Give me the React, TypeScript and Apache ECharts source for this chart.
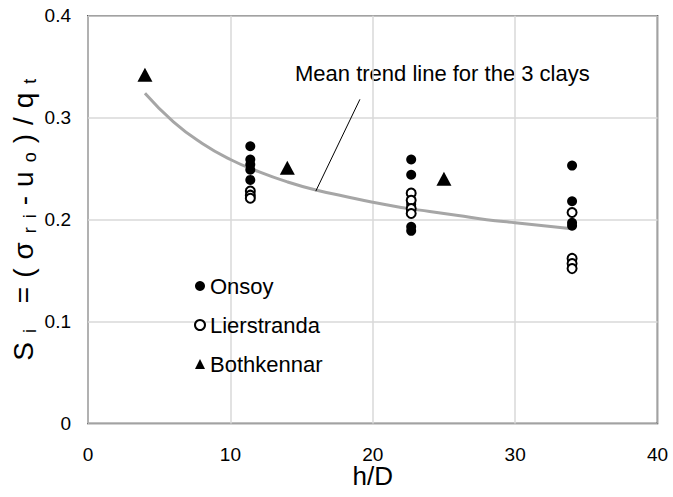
import React, { useEffect, useRef } from "react";
import * as echarts from "echarts";

const FONT = "'Liberation Sans', Arial, sans-serif";

// h/D and S_i values
const onsoyH = [11.4, 11.4, 11.4, 11.4, 11.4, 22.7, 22.7, 22.7, 22.7, 22.7, 22.7, 34, 34, 34, 34];
const onsoyS = [0.272, 0.259, 0.254, 0.249, 0.239, 0.259, 0.244, 0.215, 0.209, 0.193, 0.189, 0.253, 0.218, 0.197, 0.194];

const lierH = [11.4, 11.4, 11.4, 22.7, 22.7, 22.7, 22.7, 34, 34, 34, 34];
const lierS = [0.228, 0.224, 0.221, 0.226, 0.219, 0.211, 0.206, 0.207, 0.162, 0.157, 0.152];

const bothH = [4, 14, 25];
const bothS = [0.342, 0.251, 0.240];

const trendH = [4, 6, 8, 10, 12, 14, 16, 18, 20, 22, 24, 26, 28, 30, 32, 34];
const trendS = [0.324, 0.296, 0.275, 0.259, 0.247, 0.237, 0.229, 0.223, 0.217, 0.212, 0.208, 0.204, 0.200, 0.197, 0.194, 0.191];

const pointerH = [16.0, 19.1];
const pointerS = [0.228, 0.318];

const xTicks = [0, 10, 20, 30, 40];
const yTicks = [0, 0.1, 0.2, 0.3, 0.4];

const annotationText = "Mean trend line for the 3 clays";

// y-axis title pieces: [text, isSubscript]
const yTitleParts: [string, boolean][] = [
  ["S", false], ["i", true], [" ", false], ["=", false], ["(", false], ["σ", false],
  ["r", true], ["i", true], ["-", false], ["u", false], ["o", true], [")", false],
  ["/", false], ["q", false], ["t", true],
];

const zip = (a: number[], b: number[]) => a.map((v, i) => [v, b[i]]);

export default function App() {
  const ref = useRef<HTMLDivElement>(null);
  useEffect(() => {
    if (!ref.current) return;
    const chart = echarts.init(ref.current, null, { renderer: "svg" });
    const yTitle = yTitleParts.map(([t, sub]) => `{${sub ? "b" : "a"}|${t}}`).join("");
    chart.setOption({
      animation: false,
      backgroundColor: "#fff",
      grid: {
        left: 88,
        right: 15.5,
        top: 15.7,
        bottom: 73.4,
        containLabel: false,
        outerBoundsMode: "none",
        show: true,
        borderColor: "#000",
        borderWidth: 1.5,
        backgroundColor: "transparent",
      },
      legend: {
        orient: "vertical",
        left: 189,
        top: 270,
        itemWidth: 10,
        itemHeight: 10,
        itemGap: 17,
        textStyle: { fontFamily: FONT, fontSize: 22, color: "#000", lineHeight: 22 },
        data: ["Onsoy", "Lierstranda", "Bothkennar"],
      },
      xAxis: {
        type: "value",
        min: xTicks[0],
        max: xTicks[xTicks.length - 1],
        interval: 10,
        name: "h/D",
        nameLocation: "middle",
        nameGap: 42,
        nameMoveOverlap: false,
        nameTextStyle: { fontFamily: FONT, fontSize: 26, lineHeight: 20, color: "#000" },
        axisLine: { show: false },
        axisTick: { show: false },
        axisLabel: { fontFamily: FONT, fontSize: 19, lineHeight: 16, color: "#000", margin: 23 },
        splitLine: { show: true, lineStyle: { color: "#d9d9d9", width: 1.5 } },
      },
      yAxis: {
        type: "value",
        min: yTicks[0],
        max: yTicks[yTicks.length - 1],
        interval: 0.1,
        name: yTitle,
        nameLocation: "middle",
        nameGap: 49,
        nameMoveOverlap: false,
        nameTextStyle: {
          rich: {
            a: { fontFamily: FONT, fontSize: 28, lineHeight: 32, color: "#000", padding: [0, 4.5, 0, 4.5] },
            b: { fontFamily: FONT, fontSize: 18, lineHeight: 18, color: "#000", verticalAlign: "bottom", padding: [0, 4.5, 0, 4.5] },
          },
        },
        axisLine: { show: false },
        axisTick: { show: false },
        axisLabel: { fontFamily: FONT, fontSize: 19, color: "#000", margin: 17 },
        splitLine: { show: true, lineStyle: { color: "#d9d9d9", width: 1.5 } },
      },
      graphic: [
        {
          type: "text",
          left: 295,
          top: 62,
          silent: true,
          style: { text: annotationText, fontFamily: FONT, fontSize: 22, fill: "#000" },
        },
      ],
      series: [
        {
          name: "Trend",
          type: "line",
          data: zip(trendH, trendS),
          smooth: true,
          showSymbol: false,
          symbol: "none",
          lineStyle: { color: "#a6a6a6", width: 3 },
          silent: true,
          z: 1,
        },
        {
          name: "Pointer",
          type: "line",
          data: zip(pointerH, pointerS),
          showSymbol: false,
          symbol: "none",
          lineStyle: { color: "#000", width: 1 },
          silent: true,
          z: 1,
        },
        {
          name: "Onsoy",
          type: "scatter",
          data: zip(onsoyH, onsoyS),
          symbol: "circle",
          symbolSize: 10,
          itemStyle: { color: "#000", opacity: 1 },
          z: 3,
        },
        {
          name: "Lierstranda",
          type: "scatter",
          data: zip(lierH, lierS),
          symbol: "circle",
          symbolSize: 9,
          itemStyle: { color: "#fff", borderColor: "#000", borderWidth: 2, opacity: 1 },
          z: 3,
        },
        {
          name: "Bothkennar",
          type: "scatter",
          data: zip(bothH, bothS),
          symbol: "triangle",
          symbolSize: [15, 14],
          itemStyle: { color: "#000", opacity: 1 },
          z: 3,
        },
      ],
    });
    return () => chart.dispose();
  }, []);
  return <div ref={ref} style={{ width: 673, height: 497, position: "absolute", left: 0, top: 0 }} />;
}
